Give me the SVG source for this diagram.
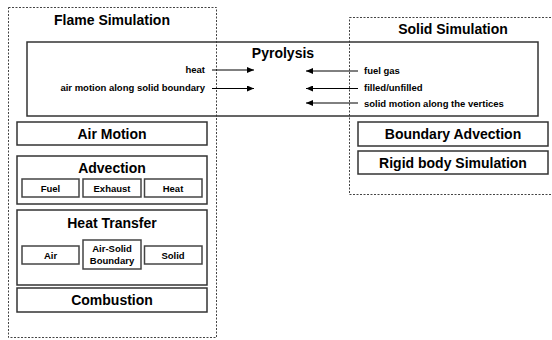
<svg xmlns="http://www.w3.org/2000/svg" width="552" height="340" viewBox="0 0 552 340">
<defs>
<style>
.dash{fill:none;stroke:#444;stroke-width:1;stroke-dasharray:2,1.5}
.box{fill:#fff;stroke:#333;stroke-width:1.5}
.sub{fill:#fff;stroke:#444;stroke-width:1.5}
text{font-family:"Liberation Sans",Arial,sans-serif;font-weight:bold;fill:#000}
.t1{font-size:14px;text-anchor:middle}
.t2{font-size:9.5px;text-anchor:middle}
.lbl{font-size:9.5px}
.arr{stroke:#000;stroke-width:1;fill:none}
</style>
<marker id="ah" markerWidth="8" markerHeight="6" refX="7" refY="3" orient="auto" markerUnits="userSpaceOnUse">
<path d="M0,0 L7,3 L0,6 Z" fill="#000"/>
</marker>
</defs>
<rect width="552" height="340" fill="#fff"/>
<g id="flame-sim">
<rect class="dash" x="8.5" y="7.5" width="208" height="330"/>
<text class="t1" x="112" y="25">Flame Simulation</text>
</g>
<g id="solid-sim">
<rect class="dash" x="349.5" y="17.5" width="210" height="177"/>
<text class="t1" x="453" y="34">Solid Simulation</text>
</g>
<g id="pyrolysis">
<rect x="27" y="42" width="511" height="74" fill="none" stroke="#333" stroke-width="1.5"/>
<text class="t1" x="283" y="58">Pyrolysis</text>
<text class="lbl" x="205" y="73" text-anchor="end">heat</text>
<text class="lbl" x="205" y="91" text-anchor="end">air motion along solid boundary</text>
<text class="lbl" x="364" y="74">fuel gas</text>
<text class="lbl" x="364" y="91">filled/unfilled</text>
<text class="lbl" x="364" y="107">solid motion along the vertices</text>
</g>
<g id="connectors">
<line class="arr" x1="212" y1="70" x2="254" y2="70" marker-end="url(#ah)"/>
<line class="arr" x1="212" y1="88.5" x2="254" y2="88.5" marker-end="url(#ah)"/>
<line class="arr" x1="358" y1="71" x2="306" y2="71" marker-end="url(#ah)"/>
<line class="arr" x1="358" y1="88.5" x2="306" y2="88.5" marker-end="url(#ah)"/>
<line class="arr" x1="358" y1="103" x2="306" y2="103" marker-end="url(#ah)"/>
</g>
<g id="air-motion">
<rect class="box" x="17" y="122" width="190" height="23"/>
<text class="t1" x="112" y="139">Air Motion</text>
</g>
<g id="advection">
<rect class="box" x="17" y="156" width="190" height="48"/>
<text class="t1" x="112" y="173">Advection</text>
<g id="adv-fuel"><rect class="sub" x="22" y="179" width="57" height="18"/><text class="t2" x="50.5" y="191.5">Fuel</text></g>
<g id="adv-exhaust"><rect class="sub" x="83" y="179" width="58" height="18"/><text class="t2" x="112" y="191.5">Exhaust</text></g>
<g id="adv-heat"><rect class="sub" x="144.5" y="179" width="57.5" height="18"/><text class="t2" x="173" y="191.5">Heat</text></g>
</g>
<g id="heat-transfer">
<rect class="box" x="17" y="210" width="190" height="75"/>
<text class="t1" x="112" y="228">Heat Transfer</text>
<g id="ht-air"><rect class="sub" x="22" y="246" width="57" height="18"/><text class="t2" x="50.5" y="258.5">Air</text></g>
<g id="ht-boundary"><rect class="sub" x="83" y="240" width="58" height="29"/><text class="t2" x="112" y="252">Air-Solid</text><text class="t2" x="112" y="264">Boundary</text></g>
<g id="ht-solid"><rect class="sub" x="144.5" y="246" width="57.5" height="18"/><text class="t2" x="173" y="258.5">Solid</text></g>
</g>
<g id="combustion">
<rect class="box" x="17" y="288" width="190" height="24"/>
<text class="t1" x="112" y="305">Combustion</text>
</g>
<g id="boundary-advection">
<rect class="box" x="358" y="122" width="190" height="24"/>
<text class="t1" x="453" y="139">Boundary Advection</text>
</g>
<g id="rigid-body">
<rect class="box" x="358" y="151" width="190" height="23"/>
<text class="t1" x="453" y="168">Rigid body Simulation</text>
</g>
</svg>
